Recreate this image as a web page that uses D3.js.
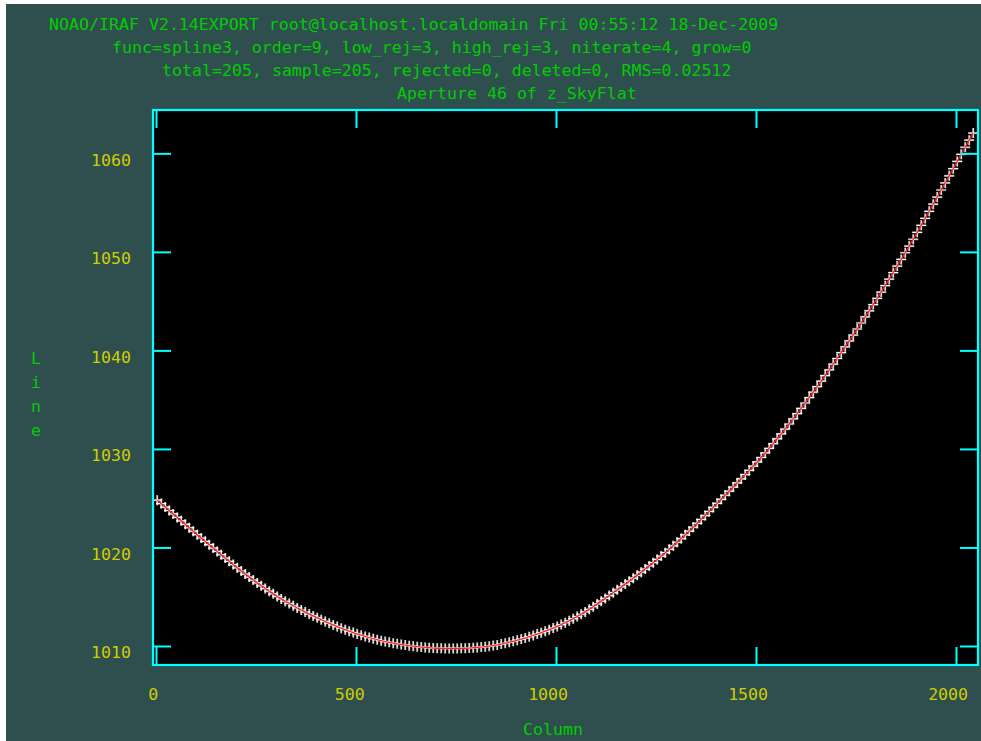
<!DOCTYPE html>
<html>
<head>
<meta charset="utf-8">
<script src="https://cdn.jsdelivr.net/npm/d3@7"></script>
<style>
  html, body { margin: 0; padding: 0; background: #ffffff; }
  svg { display: block; }
  text { font-family: "DejaVu Sans Mono", "Liberation Mono", monospace; font-size: 16.6px; }
</style>
</head>
<body>
<svg id="chart" width="981" height="741"></svg>
<script>
// Header lines of the IRAF fit plot
const titleLines = [
  "NOAO/IRAF V2.14EXPORT root@localhost.localdomain Fri 00:55:12 18-Dec-2009",
  "func=spline3, order=9, low_rej=3, high_rej=3, niterate=4, grow=0",
  "total=205, sample=205, rejected=0, deleted=0, RMS=0.02512",
  "Aperture 46 of z_SkyFlat"
];
const xLabel = "Column";
const yLabel = "Line";

const xTicks = [0, 500, 1000, 1500, 2000];
const yTicks = [1010, 1020, 1030, 1040, 1050, 1060];

// Aperture trace: sampled columns and the fitted line position at each
const columns = [
  3, 13, 23, 33, 43, 53, 63, 73, 83, 93,
  103, 113, 123, 133, 143, 153, 163, 173, 183, 193,
  203, 213, 223, 233, 243, 253, 263, 273, 283, 293,
  303, 313, 323, 333, 343, 353, 363, 373, 383, 393,
  403, 413, 423, 433, 443, 453, 463, 473, 483, 493,
  503, 513, 523, 533, 543, 553, 563, 573, 583, 593,
  603, 613, 623, 633, 643, 653, 663, 673, 683, 693,
  703, 713, 723, 733, 743, 753, 763, 773, 783, 793,
  803, 813, 823, 833, 843, 853, 863, 873, 883, 893,
  903, 913, 923, 933, 943, 953, 963, 973, 983, 993,
  1003, 1013, 1023, 1033, 1043, 1053, 1063, 1073, 1083, 1093,
  1103, 1113, 1123, 1133, 1143, 1153, 1163, 1173, 1183, 1193,
  1203, 1213, 1223, 1233, 1243, 1253, 1263, 1273, 1283, 1293,
  1303, 1313, 1323, 1333, 1343, 1353, 1363, 1373, 1383, 1393,
  1403, 1413, 1423, 1433, 1443, 1453, 1463, 1473, 1483, 1493,
  1503, 1513, 1523, 1533, 1543, 1553, 1563, 1573, 1583, 1593,
  1603, 1613, 1623, 1633, 1643, 1653, 1663, 1673, 1683, 1693,
  1703, 1713, 1723, 1733, 1743, 1753, 1763, 1773, 1783, 1793,
  1803, 1813, 1823, 1833, 1843, 1853, 1863, 1873, 1883, 1893,
  1903, 1913, 1923, 1933, 1943, 1953, 1963, 1973, 1983, 1993,
  2003, 2013, 2023, 2033, 2043
];
const lineValues = [
  1024.80, 1024.45, 1024.10, 1023.75, 1023.40, 1023.05, 1022.70, 1022.35, 1022.00, 1021.65,
  1021.30, 1020.96, 1020.62, 1020.28, 1019.94, 1019.60, 1019.26, 1018.92, 1018.59, 1018.26,
  1017.93, 1017.61, 1017.30, 1016.99, 1016.69, 1016.40, 1016.11, 1015.83, 1015.56, 1015.29,
  1015.03, 1014.78, 1014.54, 1014.31, 1014.08, 1013.86, 1013.65, 1013.44, 1013.24, 1013.05,
  1012.86, 1012.67, 1012.49, 1012.31, 1012.14, 1011.97, 1011.81, 1011.65, 1011.50, 1011.36,
  1011.22, 1011.09, 1010.97, 1010.85, 1010.74, 1010.64, 1010.54, 1010.45, 1010.37, 1010.29,
  1010.22, 1010.15, 1010.09, 1010.03, 1009.98, 1009.93, 1009.89, 1009.85, 1009.82, 1009.79,
  1009.77, 1009.76, 1009.75, 1009.75, 1009.75, 1009.75, 1009.76, 1009.77, 1009.79, 1009.82,
  1009.85, 1009.89, 1009.93, 1009.98, 1010.04, 1010.11, 1010.19, 1010.28, 1010.38, 1010.48,
  1010.59, 1010.70, 1010.82, 1010.94, 1011.07, 1011.21, 1011.35, 1011.50, 1011.66, 1011.82,
  1011.99, 1012.17, 1012.36, 1012.56, 1012.77, 1012.99, 1013.22, 1013.46, 1013.72, 1013.99,
  1014.27, 1014.55, 1014.83, 1015.12, 1015.41, 1015.70, 1015.99, 1016.28, 1016.58, 1016.88,
  1017.18, 1017.49, 1017.81, 1018.13, 1018.46, 1018.79, 1019.13, 1019.47, 1019.82, 1020.17,
  1020.53, 1020.90, 1021.28, 1021.66, 1022.05, 1022.44, 1022.84, 1023.24, 1023.65, 1024.06,
  1024.48, 1024.89, 1025.30, 1025.71, 1026.13, 1026.55, 1026.97, 1027.39, 1027.82, 1028.25,
  1028.68, 1029.13, 1029.59, 1030.06, 1030.54, 1031.03, 1031.52, 1032.02, 1032.53, 1033.05,
  1033.58, 1034.12, 1034.66, 1035.21, 1035.76, 1036.32, 1036.88, 1037.45, 1038.02, 1038.60,
  1039.18, 1039.77, 1040.36, 1040.96, 1041.56, 1042.17, 1042.78, 1043.40, 1044.02, 1044.65,
  1045.28, 1045.92, 1046.57, 1047.23, 1047.89, 1048.56, 1049.23, 1049.91, 1050.59, 1051.28,
  1051.98, 1052.69, 1053.40, 1054.12, 1054.84, 1055.56, 1056.28, 1057.00, 1057.72, 1058.44,
  1059.18, 1059.90, 1060.62, 1061.34, 1062.06
];

const data = columns.map((c, i) => ({ col: c, line: lineValues[i] }));

// Colours of the IRAF graphics terminal
const C = {
  page: "#2f4f4f",
  plot: "#000000",
  frame: "#00ffff",
  title: "#00cd00",
  tick: "#cdcd00",
  fit: "#ff2020",
  point: "#ffffff"
};

const svg = d3.select("#chart");
const W = 981, H = 741;
const plot = { left: 153, top: 110, right: 978, bottom: 665 };

svg.append("rect").attr("x", 6).attr("y", 4).attr("width", W - 6).attr("height", H - 4)
  .attr("fill", C.page);
svg.append("rect").attr("x", plot.left).attr("y", plot.top)
  .attr("width", plot.right - plot.left).attr("height", plot.bottom - plot.top)
  .attr("fill", C.plot);

const x = d3.scaleLinear().domain([-7.5, 2055]).range([plot.left, plot.right]);
const y = d3.scaleLinear().domain([1008.07, 1064.4]).range([plot.bottom, plot.top]);

// Header
const titleX = [49, 112, 162, 397];
svg.append("g").selectAll("text").data(titleLines).join("text")
  .attr("x", (d, i) => titleX[i])
  .attr("y", (d, i) => 30 + i * 23)
  .attr("fill", C.title)
  .text(d => d);

// Data points (plus markers) with the fitted curve over them
const plotG = svg.append("g");
const cross = "M-5,0H5M0,-5V5";
plotG.append("g").selectAll("path").data(data).join("path")
  .attr("transform", d => `translate(${x(d.col)},${y(d.line)})`)
  .attr("d", cross)
  .attr("fill", "none")
  .attr("stroke", "#9a9a9a")
  .attr("stroke-width", 2.4)
  .attr("opacity", 0.45);
plotG.append("g").selectAll("path").data(data).join("path")
  .attr("transform", d => `translate(${x(d.col)},${y(d.line)})`)
  .attr("d", cross)
  .attr("fill", "none")
  .attr("stroke", C.point)
  .attr("stroke-width", 1.2);

plotG.append("path").datum(data)
  .attr("d", d3.line().x(d => x(d.col)).y(d => y(d.line)).curve(d3.curveMonotoneX))
  .attr("fill", "none")
  .attr("stroke", C.fit)
  .attr("stroke-width", 1.3);

// Inward ticks on all four sides
const tickLen = 18;
function styleAxis(g) {
  g.select(".domain").remove();
  g.selectAll(".tick line").attr("stroke", C.frame).attr("stroke-width", 2);
  g.selectAll(".tick text").attr("fill", C.tick)
    .style("font-family", '"DejaVu Sans Mono", monospace').style("font-size", "16.6px");
}

const bottomAxis = svg.append("g").attr("transform", `translate(0,${plot.bottom})`)
  .call(d3.axisBottom(x).tickValues(xTicks).tickFormat(d3.format("d"))
    .tickSizeInner(-tickLen).tickSizeOuter(0).tickPadding(23));
styleAxis(bottomAxis);
bottomAxis.selectAll(".tick text")
  .attr("dx", d => -(1.6 + 1.7 * String(d).length));

svg.append("g").attr("transform", `translate(0,${plot.top})`)
  .call(d3.axisTop(x).tickValues(xTicks).tickFormat("")
    .tickSizeInner(-tickLen).tickSizeOuter(0))
  .call(styleAxis);

const leftAxis = svg.append("g").attr("transform", `translate(${plot.left},0)`)
  .call(d3.axisLeft(y).tickValues(yTicks).tickFormat(d3.format("d"))
    .tickSizeInner(-tickLen).tickSizeOuter(0).tickPadding(22));
styleAxis(leftAxis);
leftAxis.selectAll(".tick text").attr("dy", "12px");

svg.append("g").attr("transform", `translate(${plot.right},0)`)
  .call(d3.axisRight(y).tickValues(yTicks).tickFormat("")
    .tickSizeInner(-tickLen).tickSizeOuter(0))
  .call(styleAxis);

// Plot frame
svg.append("rect").attr("x", plot.left).attr("y", plot.top)
  .attr("width", plot.right - plot.left).attr("height", plot.bottom - plot.top)
  .attr("fill", "none").attr("stroke", C.frame).attr("stroke-width", 2.2);

// Axis titles
svg.append("text").attr("x", 523).attr("y", 735).attr("fill", C.title).text(xLabel);
svg.append("g").selectAll("text").data(Array.from(yLabel)).join("text")
  .attr("x", 36).attr("y", (d, i) => 364 + i * 24)
  .attr("text-anchor", "middle").attr("fill", C.title).text(d => d);
</script>
</body>
</html>
